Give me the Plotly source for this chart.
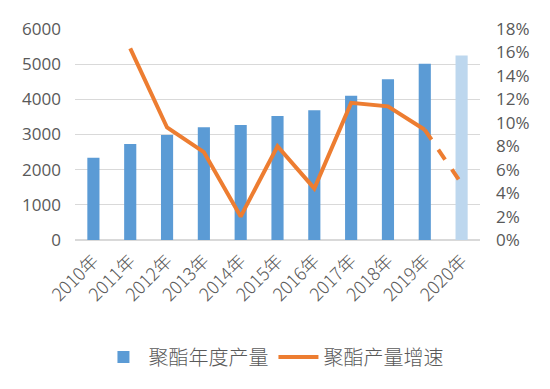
import plotly.graph_objects as go

years = ["2010年", "2011年", "2012年", "2013年", "2014年", "2015年",
         "2016年", "2017年", "2018年", "2019年", "2020年"]
output = [2340, 2730, 2985, 3205, 3270, 3525, 3690, 4105, 4570, 5010, 5250]
growth_years = ["2011年", "2012年", "2013年", "2014年", "2015年", "2016年",
                "2017年", "2018年", "2019年"]
growth = [0.1635, 0.096, 0.075, 0.020, 0.080, 0.044, 0.117, 0.114, 0.094]
forecast_years = ["2019年", "2020年"]
forecast_growth = [0.094, 0.048]

bar_colors = ["#5B9BD5"] * 10 + ["#BDD7EE"]
font_family = "Open Sans, Noto Sans CJK SC, sans-serif"
text_color = "#595959"

fig = go.Figure()
fig.add_trace(go.Bar(x=years, y=output, name="聚酯年度产量",
                     marker=dict(color=bar_colors, line=dict(width=0))))
fig.add_trace(go.Scatter(x=growth_years, y=growth, name="聚酯产量增速", yaxis="y2",
                         mode="lines", line=dict(color="#ED7D31", width=4)))
fig.add_trace(go.Scatter(x=forecast_years, y=forecast_growth, yaxis="y2", showlegend=False,
                         mode="lines", line=dict(color="#ED7D31", width=4, dash="dash")))

# page body has an 8px default margin, so the figure is sized to fit the rest
fig.update_layout(
    width=542, height=381,
    margin=dict(l=67, r=70, t=21, b=149, autoexpand=False),
    paper_bgcolor="white", plot_bgcolor="white",
    font=dict(family=font_family, color=text_color, size=16),
    bargap=0.67,
    xaxis=dict(type="category", tickangle=-45,
               tickfont=dict(size=18, family="Noto Sans CJK SC", weight=300),
               showgrid=False, showline=False, ticks="", automargin=False,
               ticklabelstandoff=6),
    yaxis=dict(range=[0, 6000], dtick=1000, showgrid=True, gridcolor="#D9D9D9",
               gridwidth=1, zeroline=True, zerolinecolor="#D9D9D9", automargin=False,
               tickfont=dict(size=17), ticks="", ticklabelstandoff=13),
    yaxis2=dict(range=[0, 0.18], dtick=0.02, tickformat=".0%", overlaying="y",
                side="right", showgrid=False, zeroline=False, automargin=False,
                tickfont=dict(size=17), ticks="", ticklabelstandoff=15),
    legend=dict(orientation="h", x=0.49, xanchor="center", y=-0.555, yanchor="middle",
                font=dict(size=20, family="Noto Sans CJK SC", weight=300), itemwidth=40),
    showlegend=True,
)

fig.write_html("out.html")
